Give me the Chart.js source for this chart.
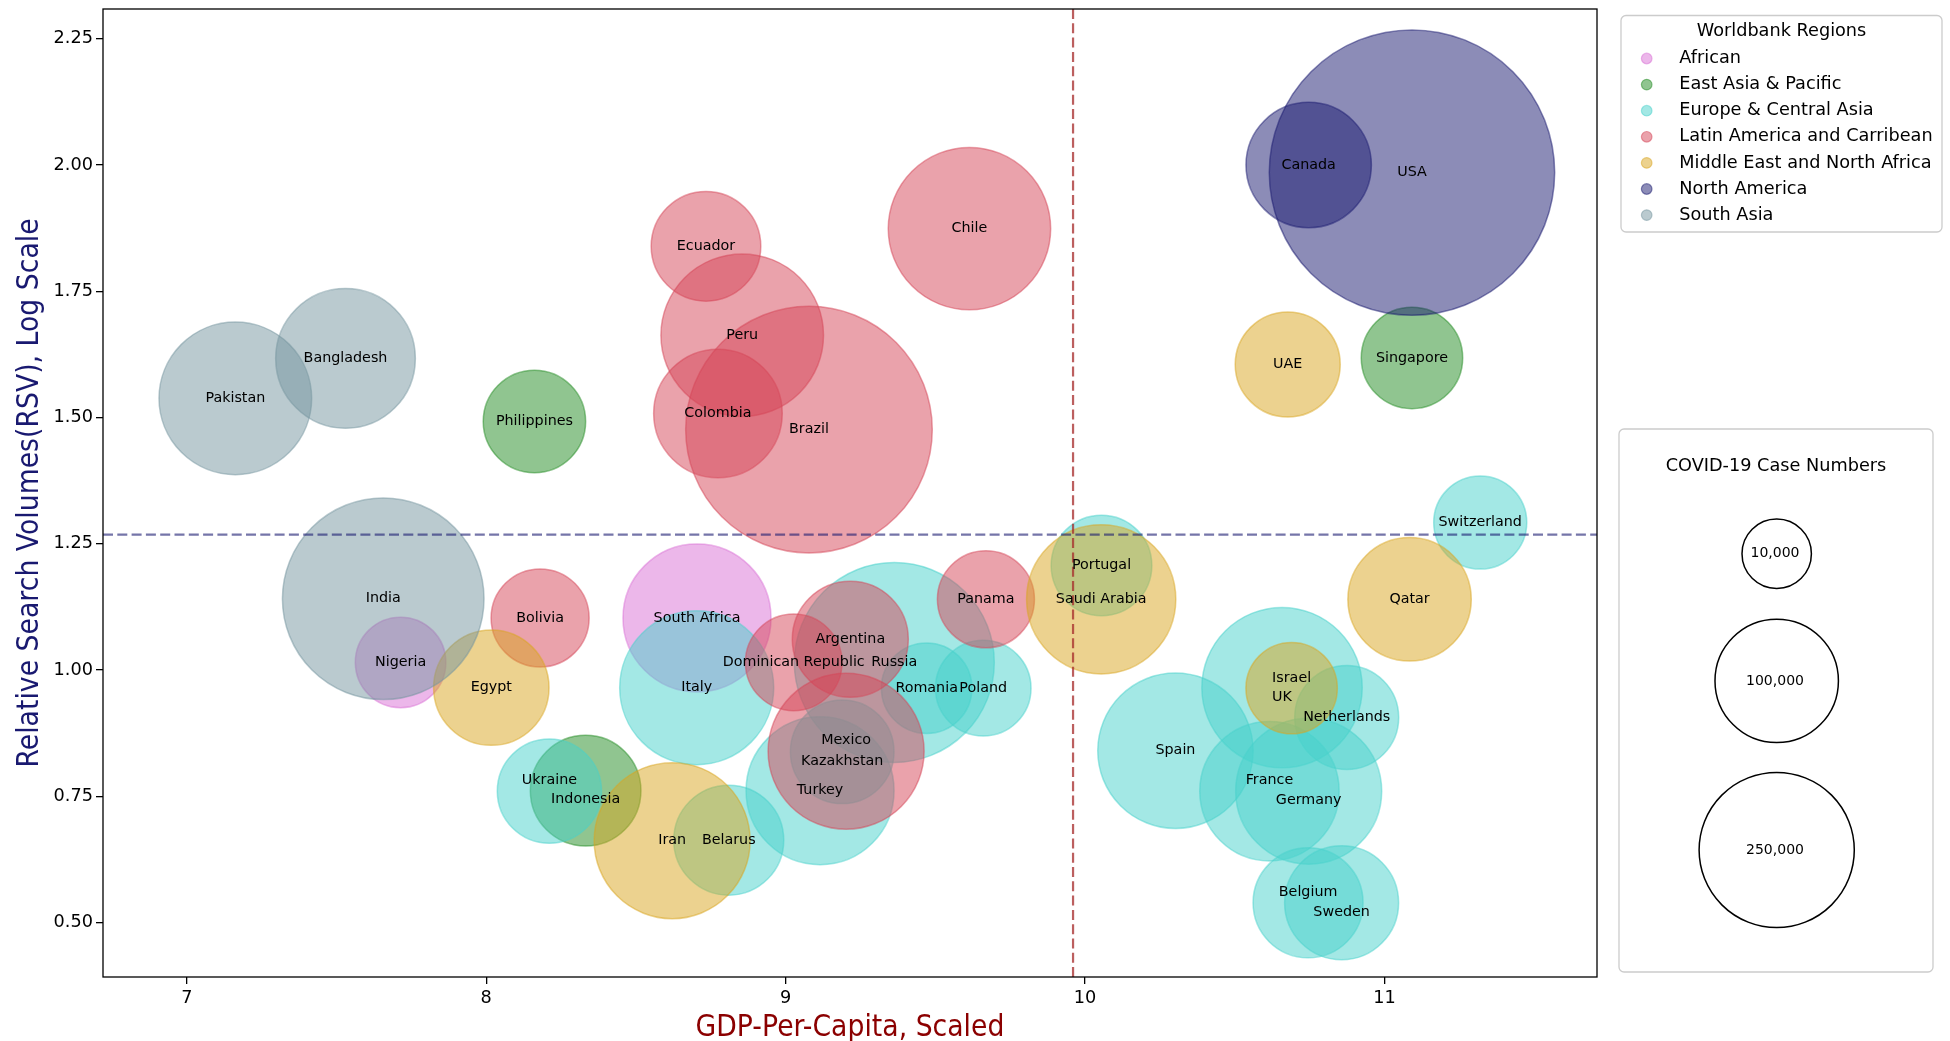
<!DOCTYPE html>
<html>
<head>
<meta charset="utf-8">
<script src="https://cdn.jsdelivr.net/npm/chart.js@4.4.1/dist/chart.umd.min.js"></script>
<style>
    html, body { margin: 0; padding: 0; background: #fff; }
    canvas { display: block; }
</style>
</head>
<body>
<canvas id="chart" width="1950" height="1041"></canvas>
<script>
// worldbank regions, in legend order
var REGIONS = ["African", "East Asia & Pacific", "Europe & Central Asia", "Latin America and Carribean",
    "Middle East and North Africa", "North America", "South Asia"];

// one entry per country: region index, log gdp per capita, log search volume, covid cases
var COUNTRIES = ["Nigeria", "South Africa",
    "Philippines", "Indonesia", "Singapore",
    "Italy", "Russia", "Romania", "Poland", "Kazakhstan", "Turkey", "Belarus", "Ukraine", "Portugal",
    "Switzerland", "UK", "Netherlands", "Spain", "France", "Germany", "Belgium", "Sweden",
    "Bolivia", "Ecuador", "Peru", "Colombia", "Brazil", "Chile", "Dominican Republic", "Argentina", "Panama", "Mexico",
    "Egypt", "Iran", "UAE", "Qatar", "Saudi Arabia", "Israel",
    "Canada", "USA",
    "Pakistan", "Bangladesh", "India"];
var COUNTRY_REGION = [0, 0,
    1, 1, 1,
    2, 2, 2, 2, 2, 2, 2, 2, 2,
    2, 2, 2, 2, 2, 2, 2, 2,
    3, 3, 3, 3, 3, 3, 3, 3, 3, 3,
    4, 4, 4, 4, 4, 4,
    5, 5,
    6, 6, 6];
var GDP = [7.714, 8.704,
    8.161, 8.332, 11.092,
    8.703, 9.363, 9.471, 9.660, 9.189, 9.115, 8.810, 8.211, 10.055,
    11.320, 10.658, 10.874, 10.302, 10.616, 10.747, 10.745, 10.857,
    8.180, 8.734, 8.855, 8.774, 9.078, 9.614, 9.027, 9.216, 9.669, 9.202,
    8.017, 8.621, 10.677, 11.084, 10.054, 10.690,
    10.747, 11.092,
    7.162, 7.530, 7.656];
var RSV = [1.015, 1.103,
    1.492, 0.761, 1.618,
    0.965, 1.015, 0.964, 0.964, 0.838, 0.761, 0.663, 0.760, 1.207,
    1.292, 0.965, 0.906, 0.840, 0.760, 0.760, 0.539, 0.539,
    1.103, 1.839, 1.663, 1.508, 1.476, 1.874, 1.015, 1.061, 1.140, 0.839,
    0.965, 0.662, 1.605, 1.140, 1.140, 0.964,
    2.000, 1.985,
    1.538, 1.617, 1.141];
var CASES = [29000, 206800,
    47400, 64500, 45600,
    242500, 689600, 29000, 36000, 49700, 206800, 63100, 50800, 44200,
    32300, 285400, 50400, 251400, 162800, 195900, 63100, 72800,
    39800, 62200, 301300, 117900, 1594000, 299900, 37600, 78100, 38200, 255300,
    76500, 255300, 52400, 100000, 213600, 30100,
    106600, 2860000,
    234000, 164000, 712000];

var X_TICKS = [7, 8, 9, 10, 11];
var Y_TICKS = [0.5, 0.75, 1.0, 1.25, 1.5, 1.75, 2.0, 2.25];
var X_RANGE = [6.72, 11.71];
var Y_RANGE = [0.392, 2.309];

// mean lines
var GDP_MEAN = 9.96;
var RSV_MEAN = 1.268;

var SIZE_LEGEND = [10000, 100000, 250000];

// ---- styling ----
var REGION_RGB = [[218, 112, 214], [34, 139, 34], [72, 209, 204], [214, 70, 88],
    [218, 165, 32], [25, 25, 112], [117, 149, 160]];
var ALPHA = 0.5;
// bubble radius in px = SIZE_K * cases^(1/4)
var SIZE_K = 3.47;
var FONT = "'DejaVu Sans', sans-serif";
// labels nudged apart where two bubbles share a spot (px)
var LABEL_NUDGE = {"Ukraine": -11, "Indonesia": 9, "Israel": -10, "UK": 10, "France": -11,
    "Germany": 9, "Belgium": -10, "Sweden": 10, "Mexico": -11, "Kazakhstan": 9};


function rgba(rgb, a) {
    return "rgba(" + rgb[0] + "," + rgb[1] + "," + rgb[2] + "," + a + ")";
}

function bubbleRadius(cases) {
    return SIZE_K * Math.pow(cases, 0.25);
}


var datasets = REGIONS.map(function (region, r) {
    var points = [];
    for (var i = 0; i < COUNTRIES.length; i++) {
        if (COUNTRY_REGION[i] != r)
            continue;
        points.push({x: GDP[i], y: RSV[i], r: bubbleRadius(CASES[i]), name: COUNTRIES[i]});
    }
    return {
        label: region,
        data: points,
        backgroundColor: rgba(REGION_RGB[r], ALPHA),
        borderColor: rgba(REGION_RGB[r], ALPHA),
        borderWidth: 1.5,
        // later regions sit on top, like the matplotlib original
        order: REGIONS.length - r
    };
});


// dashed mean lines and the country names
var overlayPlugin = {
    id: "overlay",
    afterDatasetsDraw: function (chart) {
        var ctx = chart.ctx;
        var area = chart.chartArea;
        var xs = chart.scales.x, ys = chart.scales.y;
        ctx.save();
        ctx.lineWidth = 2.2;
        ctx.setLineDash([10, 4.3]);

        var px = xs.getPixelForValue(GDP_MEAN);
        ctx.strokeStyle = "rgba(165,42,42,0.75)";
        ctx.beginPath();
        ctx.moveTo(px, area.top);
        ctx.lineTo(px, area.bottom);
        ctx.stroke();

        var py = ys.getPixelForValue(RSV_MEAN);
        ctx.strokeStyle = "rgba(25,25,112,0.6)";
        ctx.beginPath();
        ctx.moveTo(area.left, py);
        ctx.lineTo(area.right, py);
        ctx.stroke();
        ctx.setLineDash([]);

        ctx.fillStyle = "#000";
        ctx.font = "14.3px " + FONT;
        ctx.textAlign = "center";
        ctx.textBaseline = "middle";
        chart.data.datasets.forEach(function (ds, di) {
            var meta = chart.getDatasetMeta(di);
            meta.data.forEach(function (el, j) {
                var name = ds.data[j].name;
                var dy = LABEL_NUDGE[name] || 0;
                ctx.fillText(name, el.x, el.y + dy);
            });
        });
        ctx.restore();
    },
    afterDraw: function (chart) {
        var ctx = chart.ctx;
        var area = chart.chartArea;
        ctx.save();

        // axes frame
        ctx.strokeStyle = "#000";
        ctx.lineWidth = 1.3;
        ctx.strokeRect(area.left, area.top, area.right - area.left, area.bottom - area.top);

        // axis titles, in a narrow face
        ctx.font = "30px " + FONT;
        ctx.textAlign = "center";
        ctx.textBaseline = "middle";
        ctx.fillStyle = "#8b0000";
        ctx.save();
        ctx.translate((area.left + area.right) / 2, 1028);
        ctx.scale(0.89, 1);
        ctx.fillText("GDP-Per-Capita, Scaled", 0, 0);
        ctx.restore();

        ctx.fillStyle = "#191970";
        ctx.save();
        ctx.translate(30.5, (area.top + area.bottom) / 2);
        ctx.rotate(-Math.PI / 2);
        ctx.scale(0.89, 1);
        ctx.fillText("Relative Search Volumes(RSV), Log Scale", 0, 0);
        ctx.restore();

        // region legend
        ctx.lineWidth = 1.3;
        ctx.strokeStyle = "#cccccc";
        ctx.fillStyle = "#fff";
        ctx.beginPath();
        ctx.roundRect(1621, 15.5, 321, 216.5, 5);
        ctx.fill();
        ctx.stroke();

        ctx.fillStyle = "#000";
        ctx.font = "17.7px " + FONT;
        ctx.textAlign = "center";
        ctx.fillText("Worldbank Regions", 1781.5, 31);
        ctx.textAlign = "left";
        REGIONS.forEach(function (region, r) {
            var y = 58.5 + r * 26.1;
            ctx.beginPath();
            ctx.arc(1646.7, y, 5.3, 0, Math.PI * 2);
            ctx.fillStyle = rgba(REGION_RGB[r], ALPHA);
            ctx.fill();
            ctx.strokeStyle = rgba(REGION_RGB[r], ALPHA);
            ctx.lineWidth = 1.2;
            ctx.stroke();
            ctx.fillStyle = "#000";
            ctx.fillText(region, 1679.3, y);
        });

        // case number legend
        ctx.lineWidth = 1.3;
        ctx.strokeStyle = "#cccccc";
        ctx.fillStyle = "#fff";
        ctx.beginPath();
        ctx.roundRect(1619, 429, 314, 543, 5);
        ctx.fill();
        ctx.stroke();

        ctx.fillStyle = "#000";
        ctx.textAlign = "center";
        ctx.font = "17.7px " + FONT;
        ctx.fillText("COVID-19 Case Numbers", 1776, 466);

        var centers = [553.8, 680.9, 850];
        ctx.font = "14px " + FONT;
        ctx.strokeStyle = "#000";
        ctx.lineWidth = 1.5;
        SIZE_LEGEND.forEach(function (n, i) {
            ctx.beginPath();
            ctx.arc(1776.7, centers[i], bubbleRadius(n), 0, Math.PI * 2);
            ctx.stroke();
            ctx.fillText(n.toLocaleString("en-US"), 1775, centers[i]);
        });
        ctx.restore();
    }
};


var tickFont = {family: FONT, size: 17.7};

var chart = new Chart(document.getElementById("chart"), {
    type: "bubble",
    data: {datasets: datasets},
    options: {
        responsive: false,
        animation: false,
        devicePixelRatio: 1,
        // no extra room for the big bubbles: the axes box is fixed like the original
        layout: {autoPadding: false, padding: {top: 9, right: 353, left: 0, bottom: 0}},
        plugins: {
            legend: {display: false},
            tooltip: {enabled: false}
        },
        scales: {
            x: {
                type: "linear",
                min: X_RANGE[0],
                max: X_RANGE[1],
                afterFit: function (scale) {
                    scale.height = 64;
                    scale.paddingLeft = 0;
                    scale.paddingRight = 0;
                },
                afterBuildTicks: function (scale) {
                    scale.ticks = X_TICKS.map(function (v) { return {value: v}; });
                },
                grid: {display: true, drawOnChartArea: false, drawTicks: true, tickLength: 7,
                    color: "#000", lineWidth: 1.3},
                border: {display: false},
                ticks: {font: tickFont, color: "#000", padding: 4, autoSkip: false, maxRotation: 0,
                    callback: function (v) { return String(v); }}
            },
            y: {
                type: "linear",
                min: Y_RANGE[0],
                max: Y_RANGE[1],
                afterFit: function (scale) {
                    scale.width = 103;
                    scale.paddingTop = 0;
                    scale.paddingBottom = 0;
                },
                afterBuildTicks: function (scale) {
                    scale.ticks = Y_TICKS.map(function (v) { return {value: v}; });
                },
                grid: {display: true, drawOnChartArea: false, drawTicks: true, tickLength: 7,
                    color: "#000", lineWidth: 1.3},
                border: {display: false},
                ticks: {font: tickFont, color: "#000", padding: 3, autoSkip: false,
                    callback: function (v) { return v.toFixed(2); }}
            }
        }
    },
    plugins: [overlayPlugin]
});
</script>
</body>
</html>
